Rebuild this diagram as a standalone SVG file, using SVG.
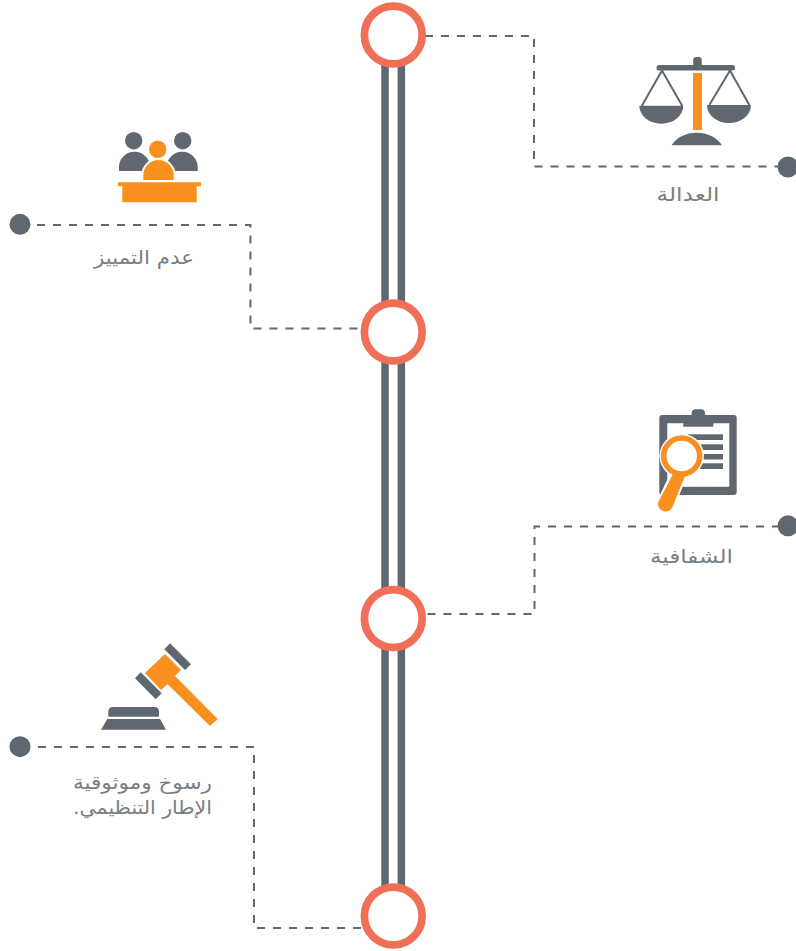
<svg xmlns="http://www.w3.org/2000/svg" width="796" height="951" viewBox="0 0 796 951">
<style>
.g{fill:#5f6770}
.o{fill:#f7901e}
.ring{fill:#fff;stroke:#f07057;stroke-width:7.7}
.dash{fill:none;stroke:#5f6770;stroke-width:2;stroke-dasharray:8 8}
.str{fill:none;stroke:#5f6770;stroke-width:2}
.t{font-family:"DejaVu Sans",sans-serif;font-size:19px;fill:#777e85;direction:rtl;text-anchor:middle}
</style>
<rect width="796" height="951" fill="#fff"/>
<g id="connectors">
<path class="dash" d="M425 36H534V166.500H780"/>
<path class="dash" d="M37 225H250.500V328.500H360"/>
<path class="dash" d="M780 526.500H534.500V614H425"/>
<path class="dash" d="M38 747H254V928H362"/>
</g>
<g id="rails">
<rect class="g" x="381.300" y="60" width="7.500" height="830"/>
<rect class="g" x="397.600" y="60" width="7.500" height="830"/>
</g>
<g id="ring-1"><circle class="ring" cx="393.300" cy="35" r="28.900"/></g>
<g id="ring-2"><circle class="ring" cx="393.300" cy="332" r="28.900"/></g>
<g id="ring-3"><circle class="ring" cx="393.300" cy="618.500" r="28.900"/></g>
<g id="ring-4"><circle class="ring" cx="393.300" cy="916" r="28.900"/></g>
<g id="node-justice">
<circle class="g" cx="788" cy="167" r="10.500"/>
<rect class="g" x="656.500" y="65" width="78.500" height="5.500" rx="2.500"/>
<rect class="g" x="693.200" y="57" width="8.500" height="12" rx="3"/>
<path class="str" d="M641.700 106L662 70.500L682.300 106M709.300 105L730 70.500L749.300 105"/>
<path class="g" d="M639.300 105.700H683.300A22 18 0 0 1 639.300 105.700ZM707 105H751A22 18 0 0 1 707 105Z"/>
<rect class="o" x="693" y="73" width="9" height="57"/>
<path class="g" d="M671.700 145.300A27 20 0 0 1 721.700 145.300Z"/>
<text class="t" x="688" y="200.500" textLength="63" lengthAdjust="spacingAndGlyphs">العدالة</text>
</g>
<g id="node-nondiscrimination">
<circle class="g" cx="20" cy="224.300" r="10.500"/>
<circle class="g" cx="133.700" cy="140.700" r="8.700"/>
<circle class="g" cx="182.700" cy="140.700" r="8.700"/>
<path class="g" d="M119 171V167A15.500 15.300 0 0 1 150 167V171ZM166.700 171V167A15.500 15.300 0 0 1 197.700 167V171Z"/>
<circle class="o" cx="157.700" cy="149.300" r="8.700"/>
<path d="M141.300 182V175.500A17.200 17.500 0 0 1 175.700 175.500V182Z" fill="#fff"/>
<path class="o" d="M143.300 180V175.500A15.200 15.500 0 0 1 173.700 175.500V180Z"/>
<path class="o" d="M118 182.300H201V186.300H196.700V202.300H122.300V186.300H118Z"/>
<text class="t" x="144" y="264" textLength="100" lengthAdjust="spacingAndGlyphs">عدم التمييز</text>
</g>
<g id="node-transparency">
<circle class="g" cx="788" cy="525.800" r="10.500"/>
<path class="g" fill-rule="evenodd" d="M662.300 415H733.700A3 3 0 0 1 736.700 418V492A3 3 0 0 1 733.700 495H662.300A3 3 0 0 1 659.300 492V418A3 3 0 0 1 662.300 415ZM667.300 423.300V486.700H729.300V423.300Z"/>
<rect class="g" x="691.700" y="409.300" width="13.300" height="15" rx="4"/>
<rect class="g" x="683.300" y="422.700" width="30" height="4"/>
<rect class="g" x="688" y="434.300" width="35" height="5.700"/>
<rect class="g" x="688" y="444.300" width="35" height="5.700"/>
<rect class="g" x="688" y="454" width="35" height="5.500"/>
<rect class="g" x="688" y="463.300" width="35" height="5.700"/>
<circle cx="681.700" cy="456" r="22.200" fill="#fff"/>
<path d="M671 472L687 476L674.500 507A9 9 0 0 1 656.500 502Z" fill="#fff"/>
<circle cx="681.700" cy="456" r="18" fill="#fff" stroke="#f7901e" stroke-width="5.500"/>
<path class="o" d="M673 474L685 476L672.800 506A7.500 7.500 0 0 1 658.300 502Z"/>
<text class="t" x="691.500" y="562.500" textLength="83" lengthAdjust="spacingAndGlyphs">الشفافية</text>
</g>
<g id="node-regulatory">
<circle class="g" cx="20" cy="746.700" r="10.500"/>
<path class="g" d="M113 707H154.500Q159 707 159 712V716.700H108.300V712Q108.300 707 113 707Z"/>
<path class="g" d="M107.300 719H160L166 729.700H101Z"/>
<path class="o" d="M165 654L181 670L175 676L217.700 719L210 726L167.500 684L161 690L145 673Z"/>
<path class="g" d="M170 643.300L191 664.300L185 670L164.300 649.300ZM140.700 672.300L161.700 693.300L155.700 699.300L135 678.300Z"/>
<text class="t" x="142.500" y="788.500" textLength="139" lengthAdjust="spacingAndGlyphs">رسوخ وموثوقية</text>
<text class="t" x="142.500" y="814" textLength="139" lengthAdjust="spacingAndGlyphs">الإطار التنظيمي.</text>
</g>
</svg>
